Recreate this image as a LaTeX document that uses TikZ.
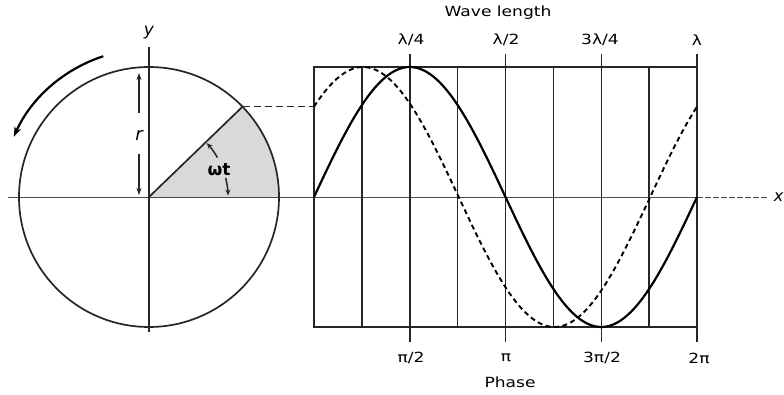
\documentclass[tikz,border=0pt]{standalone}
\usepackage{fontspec}
\usepackage{graphicx}
\newfontfamily\labfont{DejaVu Sans}
\usetikzlibrary{arrows.meta,calc}
\newcommand{\lab}[1]{\scalebox{1.22}[1]{\labfont\fontsize{14}{16}\selectfont #1}}
\tikzset{
  thinline/.style={line width=1.5pt, black!85},
  curve/.style={line width=2.2pt, black},
  axisline/.style={line width=0.9pt, black!70},
  lbl/.style={inner sep=0pt, font=\labfont},
}
\begin{document}
\begin{tikzpicture}[x=1pt,y=1pt]
\useasboundingbox (0,0) rectangle (784,394);
% centre of circle
\coordinate (c) at (149,197);
% shaded sector
\fill[gray!30] (c) -- ([shift={(0:130)}]c) arc (0:44:130) -- cycle;
% horizontal axis
\draw[axisline] (8,197) -- (697,197);
\draw[axisline, dash pattern=on 6pt off 2pt] (697,197) -- (768,197);
\node[lbl, anchor=east] (xl) at (783.5,197) {\fontsize{16}{18}\selectfont\itshape x};
% y axis
\draw[thinline] (149,62) -- (149,347);
\node[lbl] (yl) at (149,361) {\fontsize{17}{19}\selectfont\itshape y};
% circle
\draw[thinline, line width=1.7pt] (c) circle (130);
% radius to point
\coordinate (p) at ($(c)+(44:130)$);
\draw[thinline, line width=1.7pt] (c) -- (p);
% dashed projection
\coordinate (q) at (314,{197+130*sin(44)});
\draw[thinline, dash pattern=on 7pt off 4pt] (p) -- (q);
% r arrow
\draw[thinline, -{Stealth[length=7pt,width=5pt]}] (139,281) -- (139,321);
\draw[thinline, -{Stealth[length=7pt,width=5pt]}] (139,240) -- (139,199);
\node[lbl] (rl) at (139,259) {\fontsize{18}{20}\selectfont\itshape r};
% angle marks
\draw[thinline, -{Stealth[length=6pt,width=5pt]}] ([shift={(30:79)}]c) arc (30:43:79);
\draw[thinline, -{Stealth[length=6pt,width=5pt]}] ([shift={(14:79)}]c) arc (14:1:79);
\node[lbl] (wt) at (219,224) {\fontsize{17}{19}\selectfont\bfseries ωt};
% rotation arrow
\draw[line width=2.2pt, -{Stealth[length=10pt,width=7pt]}] ([shift={(108:148)}]c) arc (108:156:148);
% box and grid
\foreach \k in {0,...,8}{
  \draw[thinline] ({314+\k*47.875},67) -- ({314+\k*47.875},327);
}
\draw[thinline] (314,67) rectangle (697,327);
% ticks
\foreach \k in {2,4,6,8}{
  \draw[thinline] ({314+\k*47.875},327) -- ({314+\k*47.875},340);
  \draw[thinline] ({314+\k*47.875},67) -- ({314+\k*47.875},52);
}
% curves
\draw[curve] plot[domain=0:360, samples=120, smooth] ({314+\x*1.063889},{197+130*sin(\x)});
\draw[curve, line width=1.9pt, dash pattern=on 5pt off 3.5pt] plot[domain=0:360, samples=120, smooth] ({314+\x*1.063889},{197+130*sin(\x+44)});
% top labels
\node[lbl] (l1) at (411,354) {\lab{λ/4}};
\node[lbl] (l2) at (506,354) {\lab{λ/2}};
\node[lbl] (l3) at (600,354) {\lab{3λ/4}};
\node[lbl] (l4) at (697,354) {\lab{λ}};
\node[lbl] (wl) at (498,381) {\lab{Wave length}};
% bottom labels
\node[lbl] (p1) at (411,36) {\lab{π/2}};
\node[lbl] (p2) at (506,36) {\lab{π}};
\node[lbl] (p3) at (602,36) {\lab{3π/2}};
\node[lbl] (p4) at (699,36) {\lab{2π}};
\node[lbl] (ph) at (510,12) {\lab{Phase}};
\end{tikzpicture}
\end{document}
